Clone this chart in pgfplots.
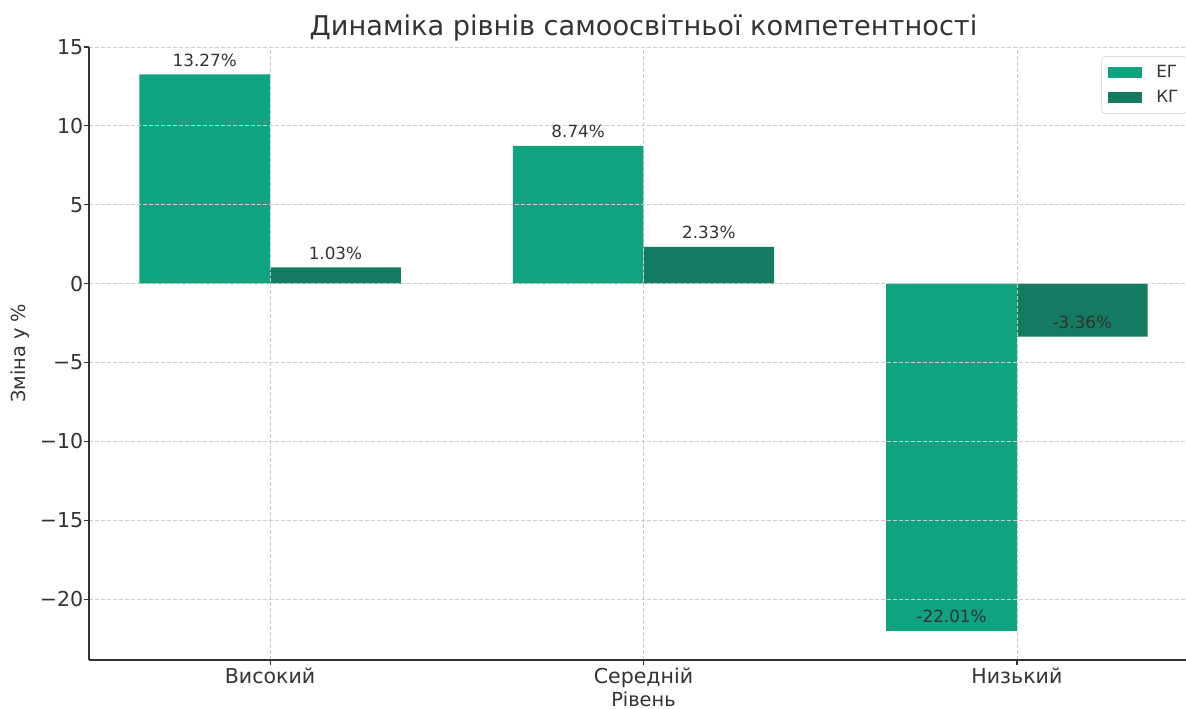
\documentclass[border=0pt]{standalone}
\usepackage{pgfplots}
\pgfplotsset{compat=1.18}
\usepackage{fontspec}
\setmainfont{DejaVu Sans}
\definecolor{eg}{HTML}{10A37F}
\definecolor{kg}{HTML}{147A60}
\definecolor{txt}{HTML}{333333}
\definecolor{gridc}{HTML}{CCCCCC}
\begin{document}
\begin{tikzpicture}
\useasboundingbox (0,0) rectangle (889.5pt,531.75pt);
\begin{axis}[
  at={(66.75pt,36.75pt)}, anchor=south west,
  width=831.75pt, height=459.75pt, scale only axis,
  xmin=-0.485, xmax=2.485, ymin=-23.85, ymax=15,
  axis x line*=bottom, axis y line*=left,
  xtick={0,1,2}, xticklabels={Високий,Середній,Низький},
  ytick={-20,-15,-10,-5,0,5,10,15},
  yticklabels={−20,−15,−10,−5,0,5,10,15},
  tick align=outside, major tick length=3.75pt,
  tick style={color=txt, line width=0.9pt},
  axis line style={color=txt, line width=1.2pt},
  grid=major,
  major grid style={gridc, dash pattern=on 3pt off 1.5pt, line width=0.6pt},
  axis on top,
  tick label style={font=\fontsize{15.4}{18}\selectfont, color=txt},
  yticklabel style={xshift=3pt},
  xticklabel style={yshift=1pt},
  title={Динаміка рівнів самоосвітньої компетентності},
  title style={at={(axis description cs:0.5,1.005)}, anchor=base, font=\fontsize{20.4}{24}\selectfont, color=txt},
  xlabel={Рівень},
  xlabel style={at={(axis description cs:0.5,-0.064)}, anchor=center, font=\fontsize{14.5}{17}\selectfont, color=txt},
  ylabel={Зміна у \%},
  ylabel style={at={(axis description cs:-0.0622,0.5)}, anchor=center, rotate=0, font=\fontsize{14.5}{17}\selectfont, color=txt},
  legend style={at={(axis description cs:0.991,0.985)}, anchor=north east, draw=gridc, rounded corners=3pt, fill=white, font=\fontsize{12.6}{15}\selectfont, text=txt, row sep=4.5pt, inner xsep=5pt, inner ysep=4.5pt},
  legend cell align=left,
  legend image code/.code={\fill[#1, sharp corners] (0pt,-4.1pt) rectangle (25.5pt,4.1pt); \path (34pt,0pt);},
  point meta=explicit symbolic,
  nodes near coords={\pgfplotspointmeta},
  every node near coord/.append style={font=\fontsize{12.6}{15}\selectfont, text=txt, anchor=base, yshift=6pt},
]
\addplot[ybar, bar width=0.35, bar shift=0, fill=eg, draw=none]
  coordinates {(-0.175,13.27)[13.27\%] (0.825,8.74)[8.74\%] (1.825,-22.01)[-22.01\%]};
\addplot[ybar, bar width=0.35, bar shift=0, fill=kg, draw=none]
  coordinates {(0.175,1.03)[1.03\%] (1.175,2.33)[2.33\%] (2.175,-3.36)[-3.36\%]};
\legend{ЕГ,КГ}
\end{axis}
\end{tikzpicture}
\end{document}
